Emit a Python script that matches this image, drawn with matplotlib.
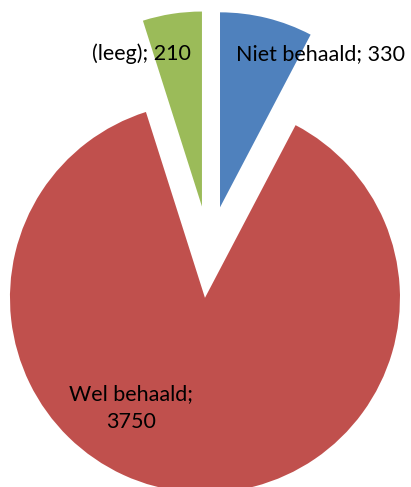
import matplotlib
matplotlib.use("Agg")
import matplotlib.pyplot as plt

# data
labels = ["Niet behaald", "Wel behaald", "(leeg)"]
values = [330, 3750, 210]
colors = ["#4F81BD", "#C0504D", "#9BBB59"]

# figure in pixel units
W, H = 411, 487
fig = plt.figure(figsize=(W / 100, H / 100), dpi=100)
ax = fig.add_axes([0, 0, 1, 1])

radius = 195
# explode is in data units here (pixels), not a fraction of radius
explode = [46] * len(values)
wedges, _ = ax.pie(values, colors=colors, explode=explode, radius=radius,
                   center=(209, H - 252), startangle=90, counterclock=False,
                   wedgeprops=dict(linewidth=0))

# label text positions (pixels from top-left)
label_pos = [(320, 54), (131, 408), (141, 54)]
for lab, val, (x, y) in zip(labels, values, label_pos):
    if val > 1000:
        txt = "%s;\n%d" % (lab, val)
    else:
        txt = "%s; %d" % (lab, val)
    ax.text(x, H - y, txt, ha="center", va="center", fontsize=15.5,
            family="Lato", color="black", linespacing=1.45)

ax.set_xlim(0, W)
ax.set_ylim(0, H)
ax.set_aspect("equal")
ax.axis("off")

fig.savefig("out.png", dpi=100)
